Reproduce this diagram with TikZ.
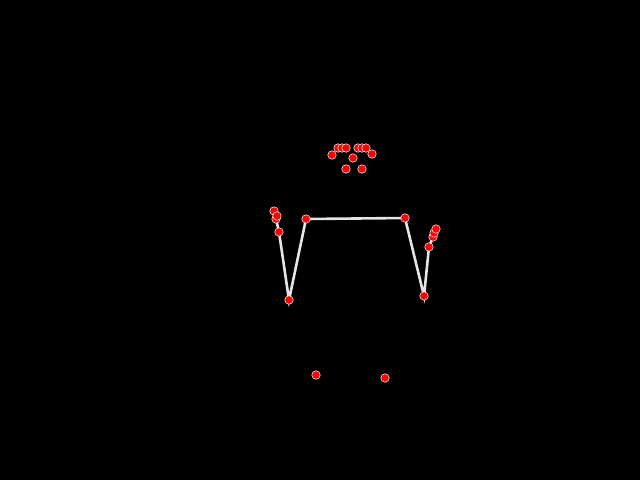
\documentclass[tikz,border=0pt]{standalone}
\usetikzlibrary{backgrounds}
\begin{document}
\begin{tikzpicture}[x=1pt,y=-1pt,
  kp/.style={circle,fill=red,draw=white,line width=0.5pt,minimum size=8.5pt,inner sep=0pt},
  bone/.style={draw=black!10,line width=2.6pt}]
\useasboundingbox (0,0) rectangle (640,480);
% head
\node[kp] (h1) at (332,155) {};
\node[kp] (h2) at (338,148) {};
\node[kp] (h3) at (342,148) {};
\node[kp] (h4) at (346,148) {};
\node[kp] (h5) at (358,148) {};
\node[kp] (h6) at (362,148) {};
\node[kp] (h7) at (366,148) {};
\node[kp] (h8) at (372,154) {};
\node[kp] (h9) at (353,158) {};
\node[kp] (h10) at (346,169) {};
\node[kp] (h11) at (362,169) {};
% left arm
\node[kp] (ls) at (306,219) {};
\node[kp] (le) at (289,300) {};
\node[kp] (lw) at (279,232) {};
\node[kp] (lh3) at (276,219) {};
\node[kp] (lh1) at (274,211) {};
\node[kp] (lh2) at (277,216) {};
% right arm
\node[kp] (rs) at (405,218) {};
\node[kp] (re) at (424,296) {};
\node[kp] (rw) at (429,247) {};
\node[kp] (rh1) at (433,237) {};
\node[kp] (rh2) at (434,233) {};
\node[kp] (rh3) at (436,229) {};
% hips
\node[kp] (lp) at (316,375) {};
\node[kp] (rp) at (385,378) {};
\begin{pgfonlayer}{background}
\fill[black] (0,0) rectangle (640,480);
\draw[bone] (ls.center) -- (rs.center);
\draw[bone] (ls.center) -- (le.center) -- (lw.center) -- (lh3.center);
\draw[bone] (rs.center) -- (re.center) -- (rw.center) -- (rh1.center);
\end{pgfonlayer}
\end{tikzpicture}
\end{document}
